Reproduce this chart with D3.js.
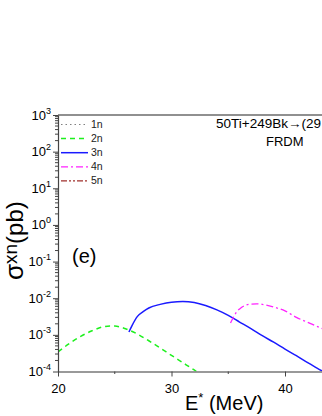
<!DOCTYPE html>
<html>
<head>
<meta charset="utf-8">
<script src="https://cdn.jsdelivr.net/npm/d3@7"></script>
<style>
  body { margin: 0; background: #fff; }
  svg { display: block; font-family: "Liberation Sans", Arial, sans-serif; }
</style>
</head>
<body>
<div id="chart"></div>
<script>
// channels shown in the legend
var channels = ["1n", "2n", "3n", "4n", "5n"];

// excitation energy (MeV) and cross section (pb) per channel
var energy1n = [];
var sigma1n = [];
var energy2n = [20, 21, 22, 23, 24, 24.6, 25, 26, 27, 28, 29, 30, 31, 32, 32.2];
var sigma2n = [3.4e-4, 5.8e-4, 9.1e-4, 1.29e-3, 1.66e-3, 1.75e-3, 1.74e-3, 1.45e-3, 1.05e-3, 6.9e-4, 4.4e-4, 2.75e-4, 1.74e-4, 1.1e-4, 1.0e-4];
var energy3n = [26.25, 26.5, 27, 27.5, 28, 29, 30, 31, 32, 33, 34, 35, 36, 37, 38, 39, 40, 41, 42, 43, 44];
var sigma3n = [1.2e-3, 1.74e-3, 3.2e-3, 4.3e-3, 5.4e-3, 6.8e-3, 7.8e-3, 8.1e-3, 7.6e-3, 6.3e-3, 4.8e-3, 3.4e-3, 2.24e-3, 1.48e-3, 9.5e-4, 6.3e-4, 4.1e-4, 2.7e-4, 1.74e-4, 1.15e-4, 7.6e-5];
var energy4n = [35.2, 35.5, 35.75, 36, 36.5, 37, 37.5, 38, 39, 40, 41, 42, 43, 44];
var sigma4n = [2.1e-3, 3.2e-3, 4.3e-3, 5.1e-3, 6.4e-3, 6.9e-3, 7.0e-3, 6.8e-3, 5.75e-3, 4.5e-3, 3.0e-3, 2.2e-3, 1.62e-3, 1.2e-3];
var energy5n = [];
var sigma5n = [];

// axis ticks
var xMajorTicks = [20, 30, 40];
var xMinorTicks = [25, 35, 45];
var yExponents = [-4, -3, -2, -1, 0, 1, 2, 3];

var svgWidth = 322;
var svgHeight = 416;

var svg = d3.select("#chart")
  .append("svg")
  .attr("width", svgWidth)
  .attr("height", svgHeight);

var plotLeft = 58, plotTop = 115, plotBottom = 371.5;

var xScale = d3.scaleLinear()
  .domain([20, 50])
  .range([plotLeft, plotLeft + 30 * 11.35]);

var yScale = d3.scaleLog()
  .domain([1e-4, 1e3])
  .range([plotBottom, plotTop]);

// minor ticks for the log axis
var yMinor = [];
yExponents.slice(0, -1).forEach(function(e) {
  for (var k = 2; k <= 9; k++) yMinor.push(k * Math.pow(10, e));
});

// curves (clipped to the plot area)
svg.append("clipPath").attr("id", "plotClip")
  .append("rect")
  .attr("x", plotLeft).attr("y", plotTop)
  .attr("width", 400).attr("height", plotBottom - plotTop);

var series = [
  { name: "1n", e: energy1n, s: sigma1n, color: "#808080", dash: "1.5,3", width: 1.2 },
  { name: "2n", e: energy2n, s: sigma2n, color: "#1ef01e", dash: "5,4", width: 1.5 },
  { name: "3n", e: energy3n, s: sigma3n, color: "#1a1aff", dash: null, width: 1.5 },
  { name: "4n", e: energy4n, s: sigma4n, color: "#ff22ff", dash: "7,3,2,3", width: 1.3 },
  { name: "5n", e: energy5n, s: sigma5n, color: "#a0302c", dash: "6,2,2,2,2,2", width: 1.3 }
];

var line = d3.line()
  .x(d => xScale(d[0]))
  .y(d => yScale(d[1]))
  .curve(d3.curveMonotoneX);

var curves = svg.append("g").attr("clip-path", "url(#plotClip)");
series.forEach(function(sr) {
  if (!sr.e.length) return;
  curves.append("path")
    .datum(sr.e.map((v, i) => [v, sr.s[i]]))
    .attr("d", line)
    .attr("fill", "none")
    .attr("stroke", sr.color)
    .attr("stroke-width", sr.width)
    .attr("stroke-dasharray", sr.dash);
});

// x axis
var bottomAxis = d3.axisBottom(xScale).tickValues(xMajorTicks).tickSize(5).tickSizeOuter(0);
var xAxis = svg.append("g")
  .attr("transform", `translate(0, ${plotBottom})`)
  .call(bottomAxis);
xAxis.select(".domain").attr("stroke", "#777").attr("stroke-width", 1.6);
xAxis.selectAll(".tick line").attr("stroke", "#444");
xAxis.selectAll("text")
  .attr("font-size", 13).attr("fill", "#000")
  .attr("font-family", "Liberation Sans, Arial, sans-serif")
  .attr("dy", "1.05em");

svg.append("g")
  .attr("transform", `translate(0, ${plotBottom})`)
  .selectAll("line")
  .data(xMinorTicks)
  .enter()
  .append("line")
  .attr("x1", d => xScale(d)).attr("x2", d => xScale(d))
  .attr("y1", 0).attr("y2", 2.5)
  .attr("stroke", "#444");

// y axis
var leftAxis = d3.axisLeft(yScale)
  .tickValues(yExponents.map(e => Math.pow(10, e)))
  .tickSize(5).tickSizeOuter(0)
  .tickFormat("");
var yAxis = svg.append("g")
  .attr("transform", `translate(${plotLeft}, 0)`)
  .call(leftAxis);
yAxis.select(".domain").attr("stroke", "#444").attr("stroke-width", 1.2);
yAxis.selectAll(".tick line").attr("stroke", "#444");

yAxis.selectAll(".minor")
  .data(yMinor)
  .enter()
  .append("line")
  .attr("class", "minor")
  .attr("x1", 0).attr("x2", -3)
  .attr("y1", d => yScale(d)).attr("y2", d => yScale(d))
  .attr("stroke", "#444");

var yLabels = svg.append("g").selectAll("text")
  .data(yExponents)
  .enter()
  .append("text")
  .attr("x", 51)
  .attr("y", d => yScale(Math.pow(10, d)) + 4.5)
  .attr("text-anchor", "end")
  .attr("font-size", 13);
yLabels.append("tspan").text("10");
yLabels.append("tspan")
  .attr("font-size", 9)
  .attr("dy", -6)
  .text(d => d);

// top frame
svg.append("line")
  .attr("x1", plotLeft).attr("x2", svgWidth)
  .attr("y1", plotTop).attr("y2", plotTop)
  .attr("stroke", "#222").attr("stroke-width", 1.2);

// axis titles
var yTitle = svg.append("text")
  .attr("transform", "translate(23, 280) rotate(-90)")
  .attr("font-size", 24);
yTitle.append("tspan").attr("font-size", 26).text("σ");
yTitle.append("tspan").attr("font-size", 19).attr("dy", -6).text("xn");
yTitle.append("tspan").attr("dy", 6).text("(pb)");

var xTitle = svg.append("text")
  .attr("x", 185)
  .attr("y", 410)
  .attr("font-size", 20);
xTitle.append("tspan").text("E");
xTitle.append("tspan").attr("font-size", 13).attr("dy", -8).text("*");
xTitle.append("tspan").attr("dy", 8).text(" (MeV)");

// panel label and reaction text (the reaction runs past the right edge, as in the source)
svg.append("text")
  .attr("x", 72).attr("y", 263)
  .attr("font-size", 20)
  .text("(e)");

svg.append("text")
  .attr("x", 216).attr("y", 128)
  .attr("font-size", 13.5)
  .text("50Ti+249Bk→(29");

svg.append("text")
  .attr("x", 266).attr("y", 145.5)
  .attr("font-size", 13)
  .text("FRDM");

// legend
var legend = svg.append("g").selectAll("g")
  .data(series)
  .enter()
  .append("g")
  .attr("transform", (d, i) => `translate(61, ${124.5 + i * 14.1})`);
legend.append("line")
  .attr("x1", 0).attr("x2", 27)
  .attr("stroke", d => d.color)
  .attr("stroke-width", d => d.width)
  .attr("stroke-dasharray", d => d.dash);
legend.append("text")
  .attr("x", 30).attr("y", 3.5)
  .attr("font-size", 10.5)
  .attr("fill", "#222")
  .text(d => d.name);
</script>
</body>
</html>
